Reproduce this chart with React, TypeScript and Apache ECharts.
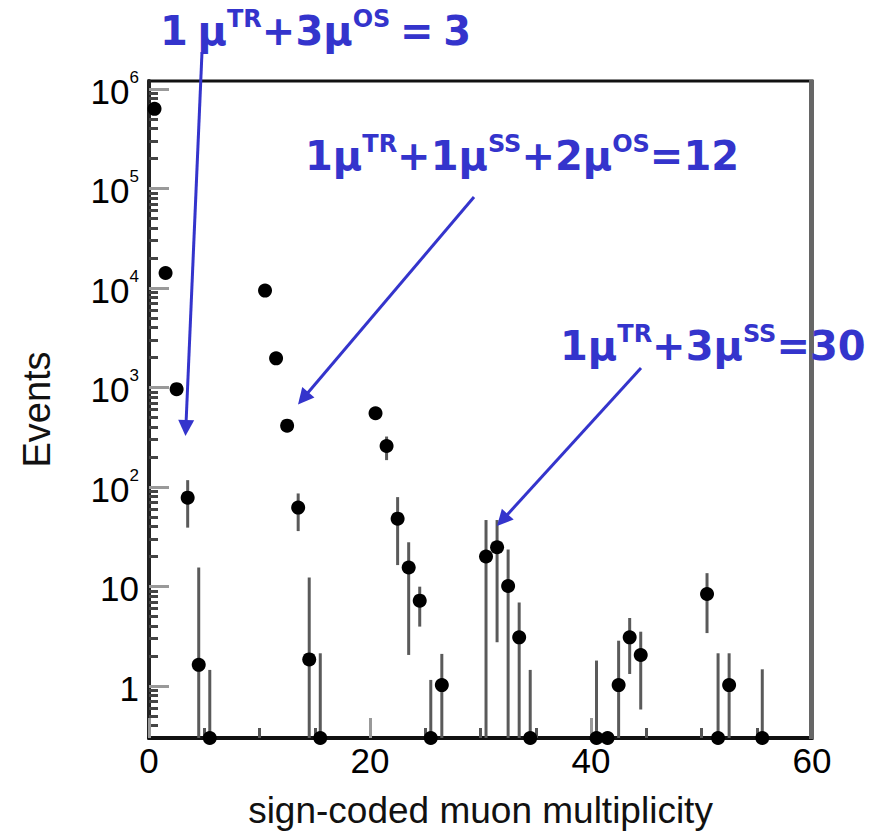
import React, { useEffect, useRef } from 'react';
import * as echarts from 'echarts';

// ---- data ----
const binCenters = [0.5, 1.5, 2.5, 3.5, 4.5, 5.5, 10.5, 11.5, 12.5, 13.5, 14.5, 15.5, 20.5, 21.5, 22.5, 23.5, 24.5, 25.5, 26.5, 30.5, 31.5, 32.5, 33.5, 34.5, 40.5, 41.5, 42.5, 43.5, 44.5, 50.5, 51.5, 52.5, 55.5];
const events = [630000, 14100, 960, 78, 1.63, 0, 9400, 1960, 413, 62, 1.85, 0, 550, 258, 48, 15.5, 7.2, 0, 1.02, 20, 24.8, 10.1, 3.08, 0, 0, 0, 1.02, 3.08, 2.05, 8.4, 0, 1.02, 0];
const errHigh = [632000, 14250, 990, 117, 15.5, 1.45, 9500, 2000, 430, 86, 12.3, 2.13, 570, 321, 79, 27.8, 9.95, 1.15, 2.1, 46.5, 46.5, 23.5, 6.9, 1.45, 1.8, 0, 2.85, 4.82, 3.51, 13.6, 2.13, 2.13, 1.47];
const errLow = [628000, 13950, 930, 39, 0, 0, 9300, 1920, 396, 36, 0, 0, 530, 186, 16.4, 2.05, 3.95, 0, 0, 0, 2.75, 0, 0, 0, 0, 0, 0, 1.32, 0.58, 3.4, 0, 0, 0];

const yMajorTicks = [1, 10, 100, 1000, 10000, 100000, 1000000];
const minorMantissas = [2, 3, 4, 5, 6, 7, 8, 9];
const minorDecades = [0.1, 1, 10, 100, 1000, 10000, 100000];

const X_MIN = 0;
const X_MAX = 60;
const Y_MIN = 0.3;
const Y_MAX = 1.2e6;

const annotations = [
  { text: '{n|1}{sp| }{n|μ}{s|TR}{n|+3μ}{s|OS}{sp| }{n|=}{sp| }{n|3}', x: 160, y: -3, from: [202, 52], tip: [185.5, 436] },
  { text: '{n|1μ}{s|TR}{n|+1μ}{s|SS}{n|+2μ}{s|OS}{n|=12}', x: 305, y: 122, from: [474, 197], tip: [298, 404.5] },
  { text: '{n|1μ}{s|TR}{n|+3μ}{s|SS}{n|=30}', x: 560, y: 312, from: [641, 368], tip: [497, 526] },
];

const BLUE = '#3434cc';
const SANS = "'Liberation Sans', Arial, sans-serif";

function arrowGraphics(from: number[], tip: number[]) {
  const dx = tip[0] - from[0];
  const dy = tip[1] - from[1];
  const len = Math.sqrt(dx * dx + dy * dy);
  const ux = dx / len;
  const uy = dy / len;
  const headLen = 16;
  const halfW = 8;
  const bx = tip[0] - ux * headLen;
  const by = tip[1] - uy * headLen;
  const nx = -uy;
  const ny = ux;
  return [
    {
      type: 'line',
      z: 100,
      shape: { x1: from[0], y1: from[1], x2: bx + ux * 2, y2: by + uy * 2 },
      style: { stroke: BLUE, lineWidth: 3 },
    },
    {
      type: 'polygon',
      z: 100,
      shape: {
        points: [
          [tip[0], tip[1]],
          [bx + nx * halfW, by + ny * halfW],
          [bx - nx * halfW, by - ny * halfW],
        ],
      },
      style: { fill: BLUE },
    },
  ];
}

export default function App() {
  const ref = useRef<HTMLDivElement>(null);

  useEffect(() => {
    if (!ref.current) return;
    const chart = echarts.init(ref.current, undefined, { renderer: 'svg' });

    const yMinorTicks: number[] = [];
    minorDecades.forEach((d) => {
      minorMantissas.forEach((m) => {
        const v = +(m * d).toPrecision(3);
        if (v > Y_MIN && v < Y_MAX) yMinorTicks.push(v);
      });
    });

    const data = binCenters.map((x, i) => [x, events[i], errHigh[i], errLow[i]]);

    const graphics: any[] = [];
    annotations.forEach((a) => {
      graphics.push({
        type: 'text',
        z: 100,
        x: a.x,
        y: a.y,
        style: {
          text: a.text,
          fill: BLUE,
          rich: {
            n: {
              fontFamily: 'DejaVu Sans',
              fontWeight: 'bold',
              fontSize: 40,
              lineHeight: 54,
              verticalAlign: 'bottom',
              fill: BLUE,
            },
            sp: {
              fontFamily: 'DejaVu Sans',
              fontWeight: 'bold',
              fontSize: 28,
              lineHeight: 54,
              verticalAlign: 'bottom',
              fill: BLUE,
            },
            s: {
              fontFamily: 'DejaVu Sans',
              fontWeight: 'bold',
              fontSize: 24,
              lineHeight: 24,
              padding: [10, 0, 0, 0],
              verticalAlign: 'top',
              fill: BLUE,
            },
          },
        },
      });
      graphics.push(...arrowGraphics(a.from, a.tip));
    });
    // right frame edge (grey, as in the reference)
    graphics.push({
      type: 'rect',
      z: 50,
      shape: { x: 809, y: 80, width: 5, height: 659 },
      style: { fill: '#666' },
    });

    const option: any = {
      animation: false,
      backgroundColor: '#fff',
      grid: {
        left: 149,
        right: 68,
        top: 81,
        bottom: 100,
        show: true,
        borderColor: '#111',
        borderWidth: 3,
        backgroundColor: 'transparent',
      },
      xAxis: {
        type: 'value',
        min: X_MIN,
        max: X_MAX,
        interval: 20,
        name: 'sign-coded muon multiplicity',
        nameLocation: 'middle',
        nameGap: 54,
        nameTextStyle: { fontFamily: SANS, fontSize: 37, color: '#111' },
        axisLine: { show: true, onZero: false, lineStyle: { color: '#111', width: 4 } },
        axisTick: { show: true, inside: true, length: 20, lineStyle: { color: '#999', width: 3 } },
        minorTick: { show: true, splitNumber: 4, length: 10, lineStyle: { color: '#555', width: 3 } },
        axisLabel: { fontFamily: SANS, fontSize: 35, color: '#000', margin: 5 },
        splitLine: { show: false },
        minorSplitLine: { show: false },
      },
      yAxis: [
        {
          type: 'log',
          logBase: 10,
          min: Y_MIN,
          max: Y_MAX,
          name: 'Events',
          nameLocation: 'middle',
          nameGap: 93,
          nameRotate: 90,
          nameTextStyle: { fontFamily: SANS, fontSize: 38, color: '#111' },
          axisLine: { show: true, lineStyle: { color: '#222', width: 4 } },
          axisTick: {
            show: true,
            inside: true,
            length: 20,
            customValues: yMajorTicks,
            lineStyle: { color: '#999', width: 3 },
          },
          axisLabel: {
            customValues: yMajorTicks,
            margin: 10,
            formatter: (v: number) => {
              const e = Math.round(Math.log10(v));
              return e <= 1 ? `{n|${Math.round(v)}}` : `{n|10}{s|${e}}`;
            },
            rich: {
              n: { fontFamily: SANS, fontSize: 35, lineHeight: 40, verticalAlign: 'bottom', color: '#000' },
              s: { fontFamily: SANS, fontSize: 17, lineHeight: 17, verticalAlign: 'top', color: '#000' },
            },
          },
          splitLine: { show: false },
          minorTick: { show: false },
        },
        {
          type: 'log',
          logBase: 10,
          min: Y_MIN,
          max: Y_MAX,
          position: 'left',
          axisLine: { show: false },
          axisLabel: { show: false },
          axisTick: {
            show: true,
            inside: true,
            length: 9,
            customValues: yMinorTicks,
            lineStyle: { color: '#444', width: 3 },
          },
          splitLine: { show: false },
        },
      ],
      graphic: graphics,
      series: [
        {
          type: 'custom',
          xAxisIndex: 0,
          yAxisIndex: 0,
          clip: false,
          z: 10,
          encode: { x: 0, y: 1 },
          data,
          renderItem: (params: any, api: any) => {
            const x = api.value(0) as number;
            const v = api.value(1) as number;
            const hi = api.value(2) as number;
            const lo = api.value(3) as number;
            const base = api.coord([x, Y_MIN]);
            const cx = base[0];
            const bottom = base[1];
            const toPx = (val: number) => (val > 0 ? Math.min(api.coord([x, val])[1], bottom) : bottom);
            const children: any[] = [];
            if (hi > 0) {
              children.push({
                type: 'line',
                shape: { x1: cx, y1: toPx(hi), x2: cx, y2: toPx(lo) },
                style: { stroke: '#5a5a5a', lineWidth: 3 },
              });
            }
            children.push({
              type: 'circle',
              shape: { cx, cy: toPx(v), r: 7 },
              style: { fill: '#000' },
            });
            return { type: 'group', children };
          },
        },
      ],
    };

    chart.setOption(option);
    return () => chart.dispose();
  }, []);

  return (
    <div
      ref={ref}
      style={{ position: 'fixed', left: 0, top: 0, width: 880, height: 838, background: '#fff' }}
    />
  );
}
